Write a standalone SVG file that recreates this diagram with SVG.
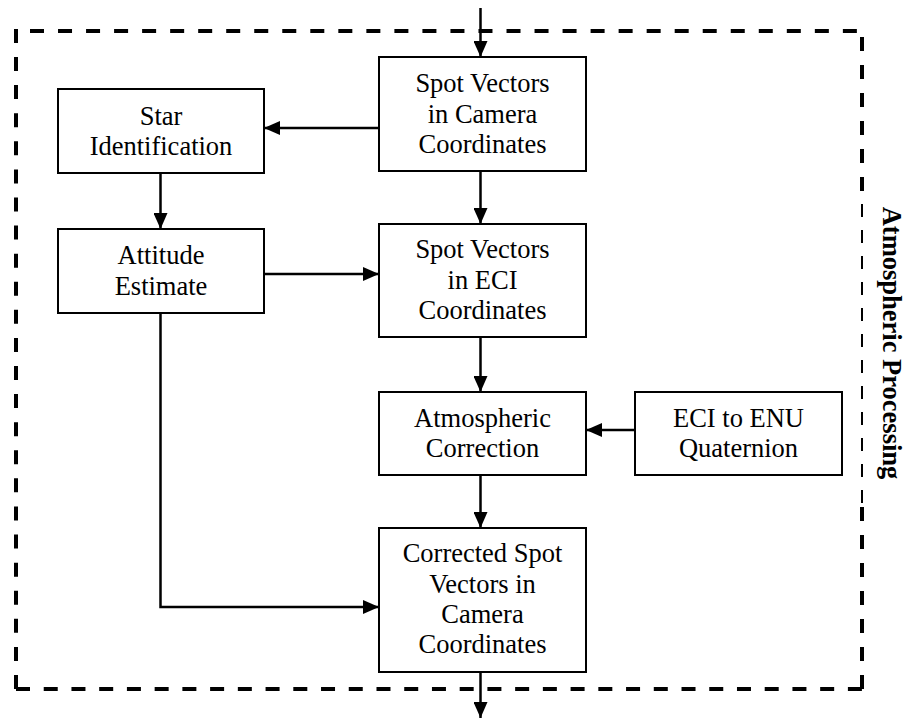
<svg xmlns="http://www.w3.org/2000/svg" width="907" height="721" viewBox="0 0 907 721">
  <style>
    .box { fill: #fff; stroke: #000; stroke-width: 2; }
    .lbl { font-family: "Liberation Serif", "Times New Roman", serif; font-size: 26.5px; fill: #000; text-anchor: middle; }
    .title { font-family: "Liberation Serif", "Times New Roman", serif; font-size: 26.5px; font-weight: bold; fill: #000; text-anchor: middle; }
    .edge { fill: none; stroke: #000; stroke-width: 2.5; marker-end: url(#arrow); }
    .border { fill: none; stroke: #000; stroke-width: 4; stroke-dasharray: 14 14; }
    .border-thin { fill: none; stroke: #000; stroke-width: 2; stroke-dasharray: 13 13; }
  </style>
  <defs>
    <marker id="arrow" markerUnits="userSpaceOnUse" markerWidth="16" markerHeight="14" refX="16" refY="7" orient="auto">
      <path d="M0,0 L16,7 L0,14 z" fill="#000"/>
    </marker>
  </defs>

  <rect width="907" height="721" fill="#fff"/>

  <!-- dashed processing boundary -->
  <g id="boundary">
    <line class="border" x1="30" y1="31" x2="857" y2="31" style="stroke-dasharray:14 14.03"/>
    <line class="border" x1="16" y1="689" x2="16" y2="29" style="stroke-dasharray:14 14.09"/>
    <line class="border" x1="16" y1="689" x2="862" y2="689" style="stroke-dasharray:14 13.73"/>
    <line class="border" x1="862" y1="689" x2="862" y2="503"/>
    <line class="border-thin" x1="862" y1="503" x2="862" y2="197"/>
    <line class="border" x1="862" y1="37" x2="862" y2="197"/>
    <text class="title" transform="translate(883,343) rotate(90)">Atmospheric Processing</text>
  </g>

  <!-- connectors -->
  <g id="connectors">
    <line class="edge" x1="480.5" y1="8" x2="480.5" y2="57"/>
    <line class="edge" x1="379" y1="128" x2="264" y2="128"/>
    <line class="edge" x1="160.5" y1="173" x2="160.5" y2="229"/>
    <line class="edge" x1="264" y1="274" x2="379" y2="274"/>
    <line class="edge" x1="480.5" y1="171" x2="480.5" y2="224"/>
    <line class="edge" x1="480.5" y1="337" x2="480.5" y2="392"/>
    <line class="edge" x1="635" y1="430" x2="586" y2="430"/>
    <line class="edge" x1="480.5" y1="475" x2="480.5" y2="528"/>
    <polyline class="edge" points="160.5,313 160.5,607 379,607"/>
    <line class="edge" x1="480.5" y1="672" x2="480.5" y2="718"/>
  </g>

  <!-- nodes -->
  <g id="spot-camera">
    <rect class="box" x="379" y="57" width="207" height="114"/>
    <text class="lbl" x="482.5" y="92">Spot Vectors</text>
    <text class="lbl" x="482.5" y="123">in Camera</text>
    <text class="lbl" x="482.5" y="153">Coordinates</text>
  </g>

  <g id="star-identification">
    <rect class="box" x="58" y="89" width="206" height="84"/>
    <text class="lbl" x="161" y="125">Star</text>
    <text class="lbl" x="161" y="155">Identification</text>
  </g>

  <g id="attitude-estimate">
    <rect class="box" x="58" y="229" width="206" height="84"/>
    <text class="lbl" x="161" y="264">Attitude</text>
    <text class="lbl" x="161" y="295">Estimate</text>
  </g>

  <g id="spot-eci">
    <rect class="box" x="379" y="224" width="207" height="113"/>
    <text class="lbl" x="482.5" y="258">Spot Vectors</text>
    <text class="lbl" x="482.5" y="289">in ECI</text>
    <text class="lbl" x="482.5" y="319">Coordinates</text>
  </g>

  <g id="atmospheric-correction">
    <rect class="box" x="379" y="392" width="207" height="83"/>
    <text class="lbl" x="482.5" y="427">Atmospheric</text>
    <text class="lbl" x="482.5" y="457">Correction</text>
  </g>

  <g id="eci-enu-quaternion">
    <rect class="box" x="635" y="392" width="207" height="83"/>
    <text class="lbl" x="738.5" y="427">ECI to ENU</text>
    <text class="lbl" x="738.5" y="457">Quaternion</text>
  </g>

  <g id="corrected-spot">
    <rect class="box" x="379" y="528" width="207" height="144"/>
    <text class="lbl" x="482.5" y="562">Corrected Spot</text>
    <text class="lbl" x="482.5" y="593">Vectors in</text>
    <text class="lbl" x="482.5" y="623">Camera</text>
    <text class="lbl" x="482.5" y="653">Coordinates</text>
  </g>
</svg>
